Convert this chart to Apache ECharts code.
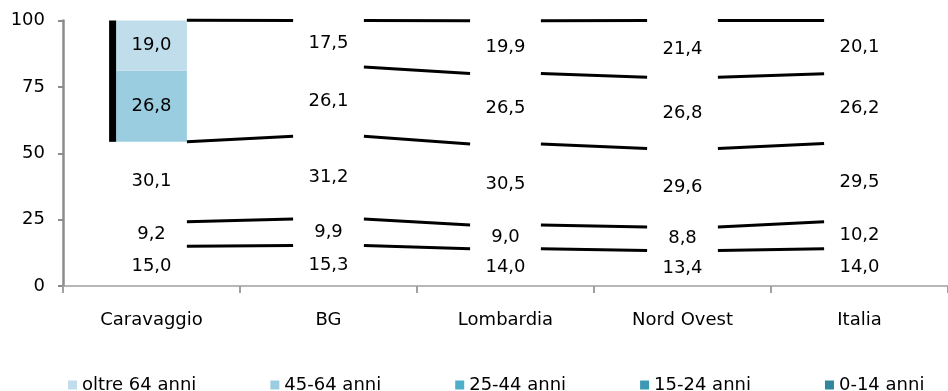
<!DOCTYPE html>
<html><head><meta charset="utf-8">
<script src="https://cdn.jsdelivr.net/npm/echarts@6/dist/echarts.min.js"></script>
<style>html,body{margin:0;padding:0;background:#fff}#c{width:948px;height:391px}</style>
</head><body><div id="c"></div>
<script>
const categories = ['Caravaggio', 'BG', 'Lombardia', 'Nord Ovest', 'Italia'];
const age0_14  = [15.0, 15.3, 14.0, 13.4, 14.0];
const age15_24 = [9.2, 9.9, 9.0, 8.8, 10.2];
const age25_44 = [30.1, 31.2, 30.5, 29.6, 29.5];
const age45_64 = [26.8, 26.1, 26.5, 26.8, 26.2];
const over64   = [19.0, 17.5, 19.9, 21.4, 20.1];
const yTicks = [0, 25, 50, 75, 100];
const seriesNames = ['0-14 anni', '15-24 anni', '25-44 anni', '45-64 anni', 'oltre 64 anni'];

const stacks = [age0_14, age15_24, age25_44, age45_64, over64];
const colors = ['#31859C', '#3C98B3', '#4FAEC9', '#9ACDE0', '#C0DDEB'];
const FONT = 'DejaVu Sans';
const BAR_FRAC = 0.4;

function cum(i, k) { let s = 0; for (let j = 0; j <= k; j++) s += stacks[j][i]; return s; }
function fmt(v) { return v.toFixed(1).replace('.', ','); }

// only the top two segments of the first bar are painted in the reference
function filled(i, k) { return i === 0 && k >= 3; }

const barSeries = stacks.map((arr, k) => ({
  name: seriesNames[k],
  type: 'bar',
  stack: 'tot',
  barWidth: (BAR_FRAC * 100) + '%',
  itemStyle: { color: colors[k] },
  data: arr.map((v, i) => ({ value: v, itemStyle: { color: filled(i, k) ? colors[k] : 'rgba(255,255,255,0)' } })),
  label: {
    show: true, position: 'inside', color: '#000', fontFamily: FONT, fontSize: 18,
    textBorderWidth: 0, formatter: p => fmt(p.value)
  },
  z: 2
}));

// series lines between consecutive bars
const links = [];
for (let i = 0; i < categories.length - 1; i++) {
  for (let k = 0; k < stacks.length; k++) {
    if (i === 0 && k === 3) continue; // not drawn in the reference
    links.push([i, k]);
  }
}

const linkSeries = {
  type: 'custom',
  name: 'links',
  clip: false,
  silent: true,
  data: links,
  renderItem(params, api) {
    const [i, k] = links[params.dataIndex];
    const half = api.size([1, 0])[0] * BAR_FRAC / 2;
    const a = api.coord([i, cum(i, k)]);
    const b = api.coord([i + 1, cum(i + 1, k)]);
    return { type: 'line', shape: { x1: a[0] + half, y1: a[1], x2: b[0] - half, y2: b[1] },
             style: { stroke: '#000', lineWidth: 3 } };
  },
  z: 3
};

const edgeSeries = {
  type: 'custom',
  name: 'edge',
  clip: false,
  silent: true,
  data: [0],
  renderItem(params, api) {
    const half = api.size([1, 0])[0] * BAR_FRAC / 2;
    const top = api.coord([0, Math.min(100, cum(0, 4))]);
    const bot = api.coord([0, cum(0, 2)]);
    return { type: 'rect', shape: { x: top[0] - half - 7, y: top[1], width: 7, height: bot[1] - top[1] },
             style: { fill: '#000' } };
  },
  z: 3
};

const chart = echarts.init(document.getElementById('c'), null, { renderer: 'canvas' });
chart.setOption({
  animation: false,
  backgroundColor: '#fff',
  grid: { left: 63, top: 20.5, width: 887, height: 265.5 },
  legend: {
    data: seriesNames.slice().reverse(),
    left: 63, top: 371,
    itemWidth: 9, itemHeight: 9, itemGap: 74,
    icon: 'rect',
    textStyle: { fontFamily: FONT, fontSize: 18, color: '#000' },
    selectedMode: false
  },
  xAxis: {
    type: 'category', data: categories,
    axisLine: { lineStyle: { color: '#a0a0a0', width: 1.5 } },
    axisTick: { show: true, length: 7, lineStyle: { color: '#a0a0a0', width: 2 } },
    axisLabel: { margin: 25, color: '#000', fontFamily: FONT, fontSize: 18 }
  },
  yAxis: {
    type: 'value', min: yTicks[0], max: yTicks[yTicks.length - 1], interval: yTicks[1] - yTicks[0],
    splitLine: { show: false },
    axisLine: { show: true, lineStyle: { color: '#8c8c8c', width: 2.5 } },
    axisTick: { show: true, length: 5, lineStyle: { color: '#8c8c8c', width: 2 } },
    axisLabel: { margin: 18, color: '#000', fontFamily: FONT, fontSize: 18 }
  },
  series: [...barSeries, linkSeries, edgeSeries]
});
</script></body></html>
